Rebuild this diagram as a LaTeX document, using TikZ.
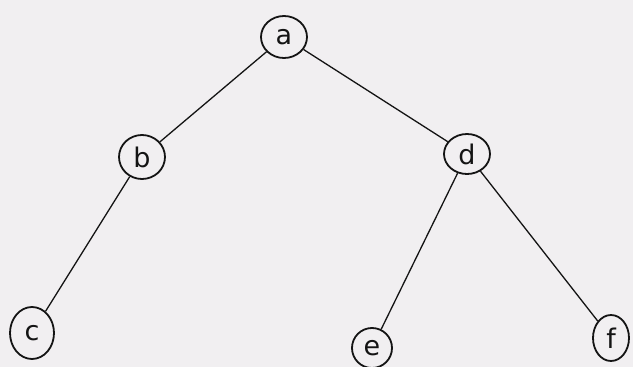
\documentclass[tikz,border=0pt]{standalone}
\usepackage{fontspec}
\setmainfont{DejaVu Sans}
\usetikzlibrary{shapes.geometric}
\definecolor{paper}{RGB}{241,239,241}
\definecolor{ink}{RGB}{20,20,20}
\tikzset{
  treenode/.style={ellipse, draw=ink, line width=1.8pt, inner sep=0pt,
    font=\fontsize{27}{27}\selectfont, text=ink},
  edge/.style={draw=ink, line width=1.3pt}
}
\begin{document}
\begin{tikzpicture}[x=1pt,y=-1pt]
\fill[paper] (0,0) rectangle (633,367);
\useasboundingbox (0,0) rectangle (633,367);
\node[treenode, minimum width=46pt, minimum height=42pt] (a) at (284,37) {a};
\node[treenode, minimum width=46pt, minimum height=44pt] (b) at (142,157) {b};
\node[treenode, minimum width=46pt, minimum height=40pt] (d) at (467,154) {d};
\node[treenode, minimum width=44pt, minimum height=52pt] (c) at (32,333) {c};
\node[treenode, minimum width=40pt, minimum height=40pt] (e) at (372,348) {e};
\node[treenode, minimum width=36pt, minimum height=46pt] (f) at (611,338) {f};
\draw[edge] (a) -- (b);
\draw[edge] (a) -- (d);
\draw[edge] (b) -- (c);
\draw[edge] (d) -- (e);
\draw[edge] (d) -- (f);
\end{tikzpicture}
\end{document}
